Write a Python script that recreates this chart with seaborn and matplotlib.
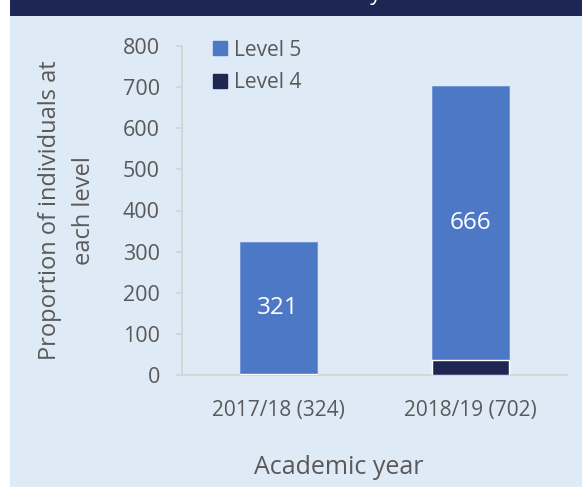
import matplotlib.pyplot as plt
import matplotlib.patches as mpatches
import seaborn as sns
import pandas as pd

# Values
years = ['2017/18 (324)', '2018/19 (702)']
level5 = [321, 666]
level4 = [3, 36]
y_ticks = [0, 100, 200, 300, 400, 500, 600, 700, 800]

BG = '#DEEAF6'
NAVY = '#1E2753'
BLUE = '#4D78C5'
GREY = '#595959'
AXIS = '#D3D3D3'

df = pd.DataFrame({'year': years, 'Level 5': level5, 'Level 4': level4})
df['total'] = df['Level 5'] + df['Level 4']


def create_plot():
    sns.set_style("white")
    plt.rcParams['font.family'] = ['Open Sans', 'DejaVu Sans']

    fig = plt.figure(figsize=(5.82, 4.87), dpi=100, facecolor='white')
    W, H = 582, 487

    # panel background and title banner
    fig.patches.append(mpatches.Rectangle((10 / W, 0), 1 - 10 / W, 1, transform=fig.transFigure,
                                          facecolor=BG, edgecolor='none', zorder=-2))
    fig.patches.append(mpatches.Rectangle((10 / W, 1 - 16 / H), 1 - 10 / W, 16 / H,
                                          transform=fig.transFigure,
                                          facecolor=NAVY, edgecolor='none', zorder=-1))
    # title sits above the visible area; only a descender peeks into the banner
    fig.text(381 / W, 1.0, 'Level 4 and 5 study', color='white', fontsize=16,
             ha='right', va='baseline')

    ax = fig.add_axes([182 / W, (H - 375) / H, (567 - 182) / W, (375 - 46) / H])
    ax.set_facecolor(BG)

    # stacked bars: total in Level 5 colour, Level 4 drawn over the base
    sns.barplot(data=df, x='year', y='total', color=BLUE, width=0.4, saturation=1,
                edgecolor='#6F92D2', linewidth=0.6, ax=ax, zorder=2)
    sns.barplot(data=df, x='year', y='Level 4', color=NAVY, width=0.4, saturation=1,
                ax=ax, zorder=3)

    for i, (l4, l5) in enumerate(zip(level4, level5)):
        ax.text(i, l4 + l5 / 2, str(l5), color='white', fontsize=17.5,
                ha='center', va='center', zorder=4)

    ax.set_xlim(-0.5, 1.5)
    ax.set_ylim(0, 800)
    ax.set_yticks(y_ticks)

    for s in ['top', 'right']:
        ax.spines[s].set_visible(False)
    for s in ['left', 'bottom']:
        ax.spines[s].set_color(AXIS)
        ax.spines[s].set_linewidth(1.2)

    ax.tick_params(axis='y', length=4, width=1.2, color=AXIS, pad=12,
                   labelsize=15.5, labelcolor=GREY, left=True)
    ax.tick_params(axis='x', length=0, pad=18, labelsize=15, labelcolor=GREY)

    ax.set_xlabel('')
    ax.set_ylabel('Proportion of individuals at\neach level', fontsize=17,
                  color=GREY, labelpad=19, linespacing=1.55)
    fig.text(339 / W, 1 - 468 / H, 'Academic year', fontsize=18, color=GREY,
             ha='center', va='center')

    handles = [mpatches.Patch(color=BLUE, label='Level 5'),
               mpatches.Patch(color=NAVY, label='Level 4')]
    ax.legend(handles=handles, loc='upper left', bbox_to_anchor=(0.06, 1.045),
              borderaxespad=0, frameon=False, fontsize=15, labelcolor=GREY,
              handlelength=0.67, handleheight=0.67, handletextpad=0.3,
              labelspacing=0.55)

    plt.savefig('out.png', dpi=100, facecolor=fig.get_facecolor())


if __name__ == "__main__":
    create_plot()
